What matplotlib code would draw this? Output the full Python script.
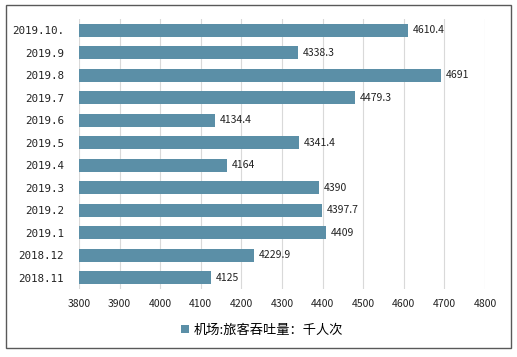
import matplotlib
matplotlib.use("Agg")
import matplotlib.pyplot as plt
from matplotlib.patches import Rectangle

plt.rcParams['font.family'] = ['Noto Sans CJK SC', 'DejaVu Sans']

categories = ["2019.10.", "2019.9", "2019.8", "2019.7", "2019.6", "2019.5",
              "2019.4", "2019.3", "2019.2", "2019.1", "2018.12", "2018.11"]
values = [4610.4, 4338.3, 4691, 4479.3, 4134.4, 4341.4,
          4164, 4390, 4397.7, 4409, 4229.9, 4125]
value_labels = ["4610.4", "4338.3", "4691", "4479.3", "4134.4", "4341.4",
                "4164", "4390", "4397.7", "4409", "4229.9", "4125"]
xticks = [3800, 3900, 4000, 4100, 4200, 4300, 4400, 4500, 4600, 4700, 4800]
legend_label = "机场:旅客吞吐量：千人次"

W, H = 517, 357
fig = plt.figure(figsize=(W / 100, H / 100), dpi=100)
ax = fig.add_axes([79 / W, 1 - 289 / H, (485 - 79) / W, (289 - 19) / H])

bar_color = "#5B8FA7"
ypos = list(range(len(categories)))
base = xticks[0]
ax.barh(ypos, [v - base for v in values], left=base, height=0.58,
        color=bar_color, label=legend_label, zorder=3)
for y, v, lab in zip(ypos, values, value_labels):
    ax.text(v + 12, y, lab, va="center", ha="left", fontsize=7.5,
            color="#222222", zorder=4)

ax.set_xlim(3800, 4800)
ax.set_ylim(len(categories) - 0.5, -0.5)
ax.set_xticks(xticks)
ax.set_xticklabels([str(t) for t in xticks], fontsize=7.5, color="#222222")
ax.set_yticks(ypos)
ax.set_yticklabels(categories, fontsize=7.8, color="#222222",
                   family=["DejaVu Sans Mono"])
ax.tick_params(axis="both", length=0)
ax.tick_params(axis="x", pad=7)
ax.tick_params(axis="y", pad=11)
for s in ax.spines.values():
    s.set_visible(False)
ax.grid(axis="x", color="#D9D9D9", linewidth=0.8, zorder=0)
ax.set_axisbelow(True)

leg = fig.legend(loc="center", bbox_to_anchor=(262 / W, 1 - 330 / H),
                 frameon=False, fontsize=9.5, handlelength=0.6,
                 handleheight=0.6, handletextpad=0.3)

fig.patches.append(Rectangle((6 / W, 1 - 348 / H), (511 - 6) / W, (348 - 5) / H,
                             transform=fig.transFigure, fill=False,
                             edgecolor="#595959", linewidth=1.0))

fig.savefig("out.png", dpi=100)
